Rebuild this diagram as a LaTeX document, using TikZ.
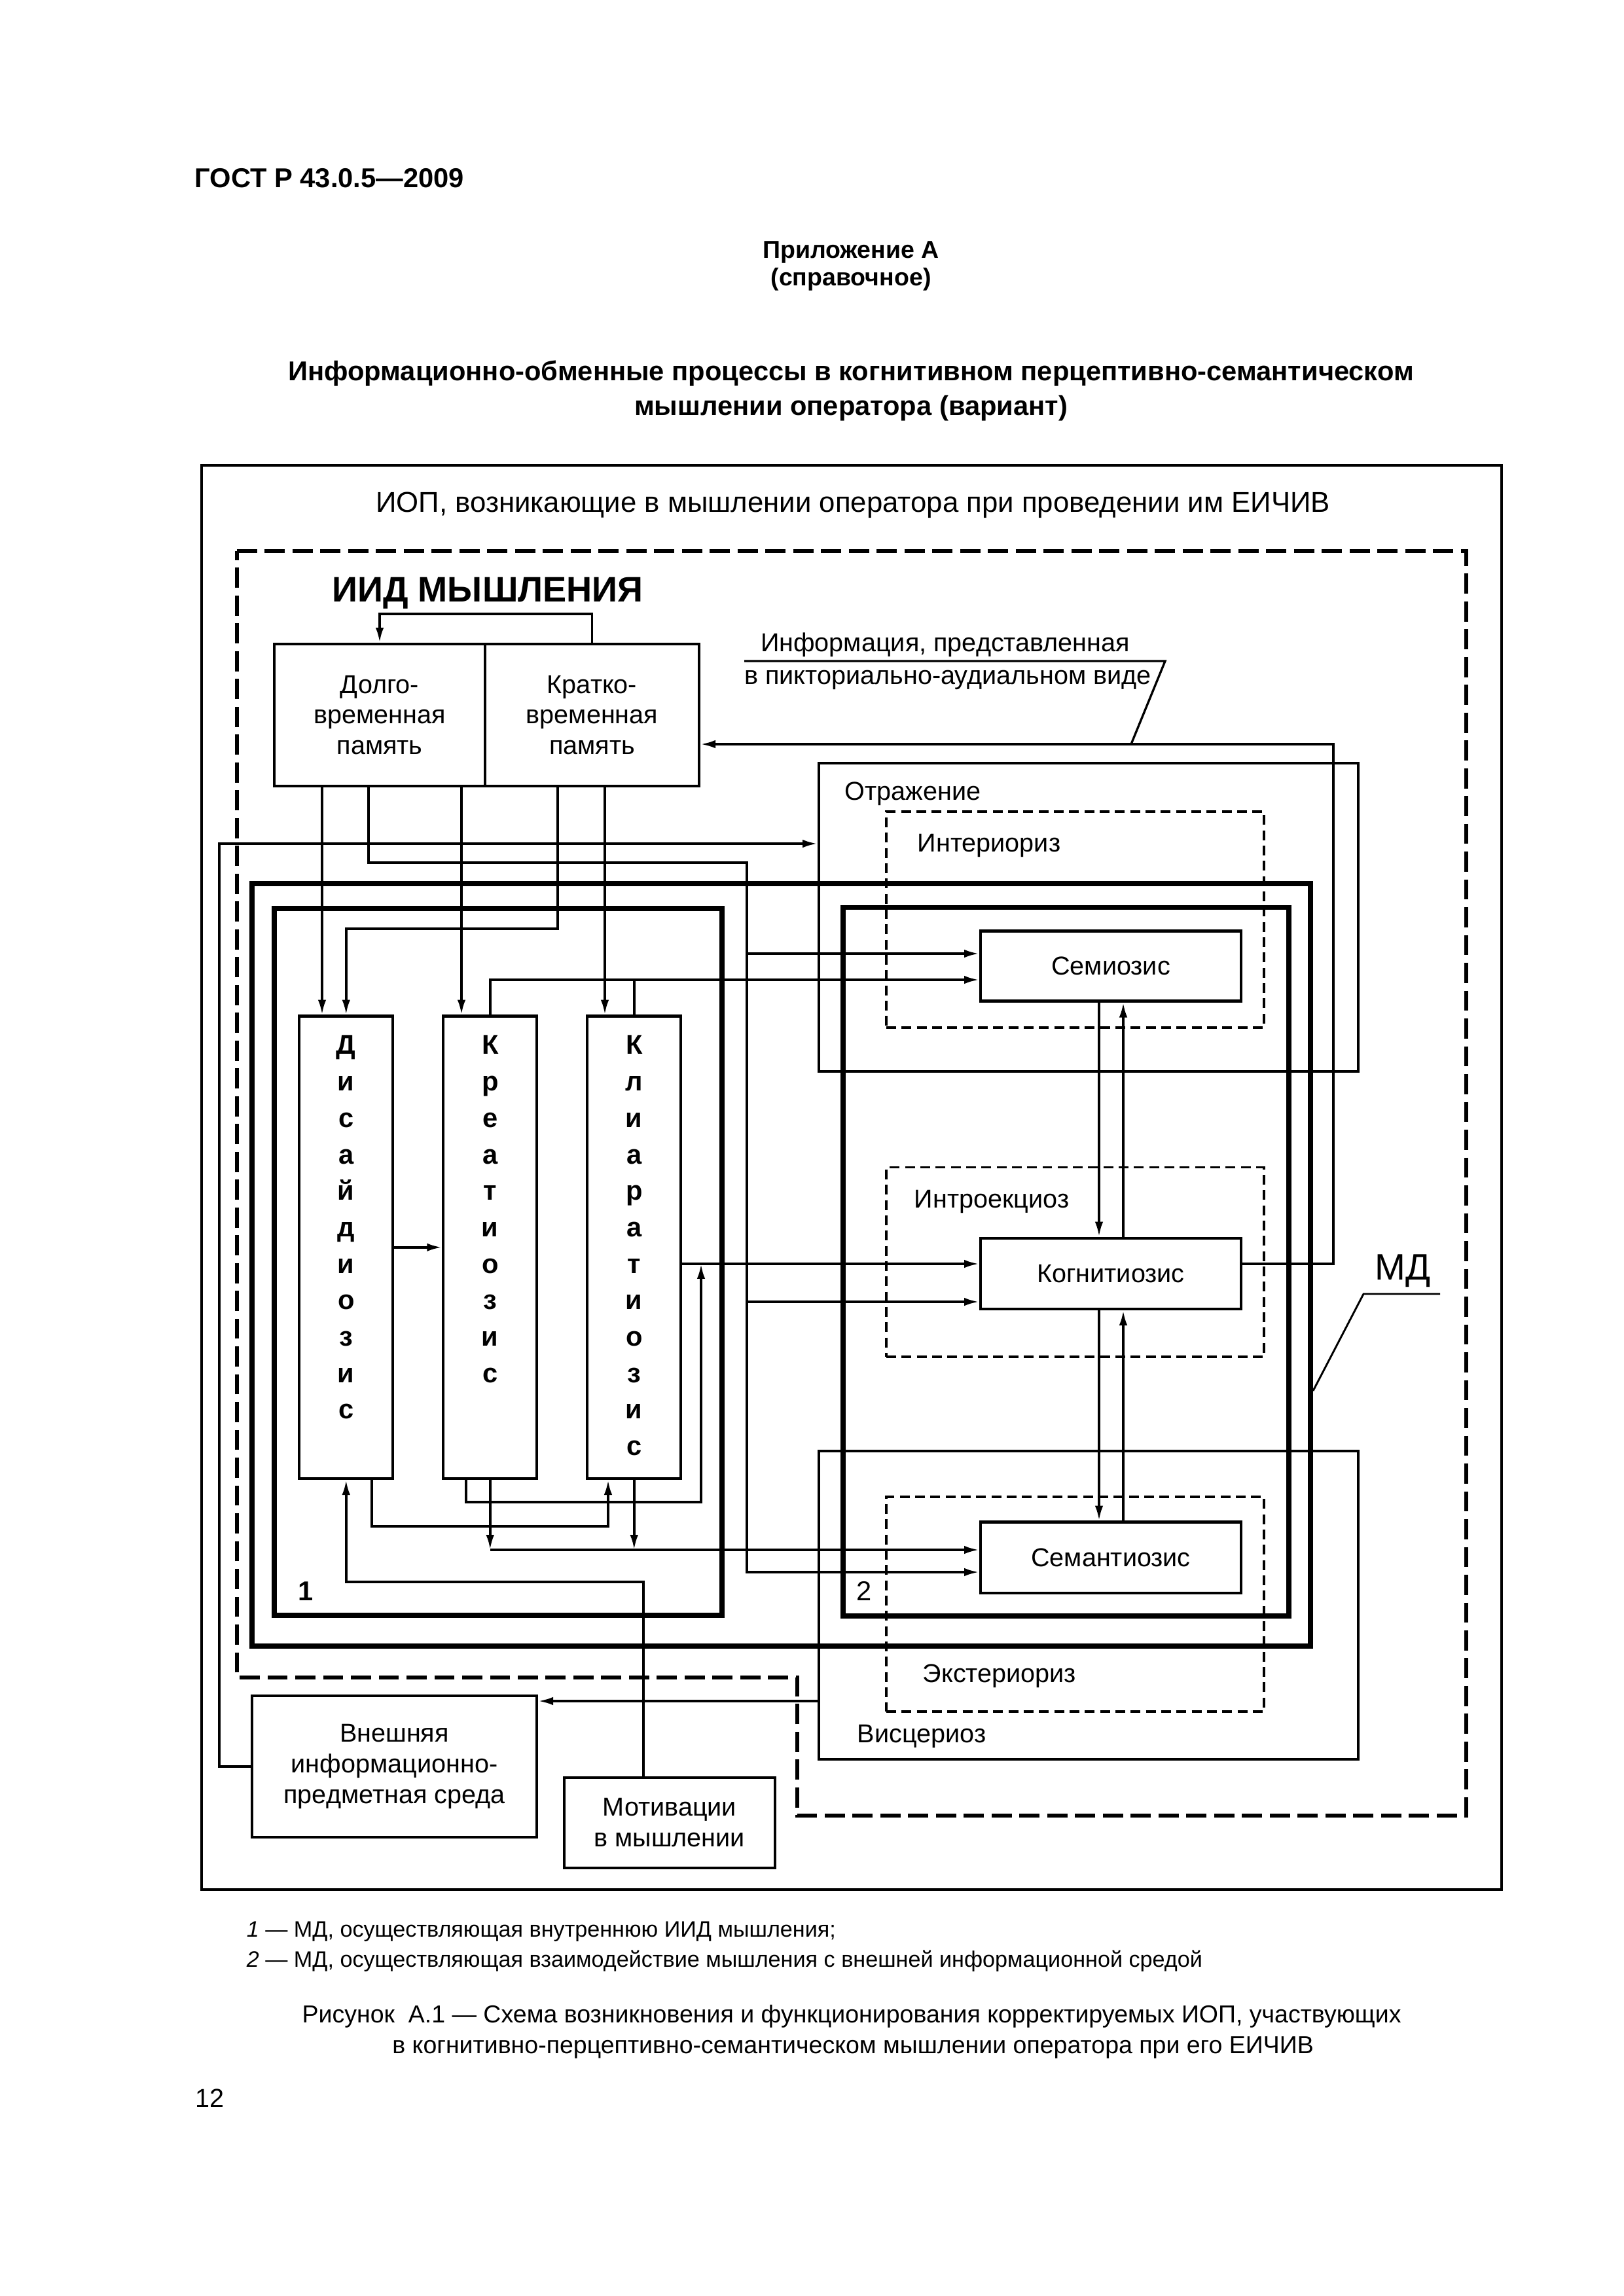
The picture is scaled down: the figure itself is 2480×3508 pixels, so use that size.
\documentclass[tikz,border=0pt]{standalone}
\usepackage{fontspec}
\setmainfont{Liberation Sans}
\usetikzlibrary{arrows.meta,calc}

\tikzset{
  blk/.style 2 args={draw, line width=1pt, minimum width=#1*0.24003pt, minimum height=#2*0.24003pt, inner sep=0pt, align=center, font=\fontsize{9.5}{11.2}\selectfont},
  mdbox/.style 2 args={blk={#1}{#2}, line width=1.9pt},
  zone/.style 2 args={blk={#1}{#2}, line width=0.8pt, dash pattern=on 3.6pt off 2pt},
  wire/.style={line width=0.9pt},
  arr/.style={wire, -{Latex[length=5.5pt,width=3pt]}},
  lbl/.style={anchor=base west, inner sep=0pt, font=\fontsize{9.5}{10.56}\selectfont},
  stack/.style={anchor=north, align=center, inner sep=0pt, font=\bfseries\fontsize{10}{13.37}\selectfont},
}

\begin{document}
\begin{tikzpicture}[x=0.24003pt,y=0.24003pt,yscale=-1]
\useasboundingbox (0,0) rectangle (2480,3508);

% Text Node
\node[anchor=base west, inner sep=0pt, font=\bfseries\fontsize{10}{11}\selectfont] (gost) at (297,286) {ГОСТ Р 43.0.5—2009};
% Text Node
\node[anchor=base, inner sep=0pt, font=\bfseries\fontsize{9}{10}\selectfont] (app) at (1300,394) {Приложение А};
% Text Node
\node[anchor=base, inner sep=0pt, font=\bfseries\fontsize{9}{10}\selectfont] (ref) at (1300,436) {(справочное)};
% Text Node
\node[anchor=base, inner sep=0pt, font=\bfseries\fontsize{10}{12}\selectfont] (titleA) at (1300,581) {Информационно-обменные процессы в когнитивном перцептивно-семантическом};
% Text Node
\node[anchor=base, inner sep=0pt, font=\bfseries\fontsize{10}{12}\selectfont] (titleB) at (1300,634) {мышлении оператора (вариант)};

%Shape: Rectangle
\node[blk={1986}{2176}, line width=1.1pt] (frame) at (1301,1799) {};
% Text Node
\node[anchor=base, inner sep=0pt, font=\fontsize{10.5}{12}\selectfont] (iop) at (1303,782) {ИОП, возникающие в мышлении оператора при проведении им ЕИЧИВ};

%Shape: Polygon (dashed)
\draw[line width=1.6pt, dash pattern=on 7.4pt off 2.8pt] (362,842) -- (2240,842) -- (2240,2774) -- (1218,2774) -- (1218,2563) -- (362,2563) -- cycle;

% Text Node
\node[anchor=base, inner sep=0pt, font=\bfseries\fontsize{13}{15}\selectfont] (iid) at (745,919) {ИИД МЫШЛЕНИЯ};

%Shape: Rectangle
\node[blk={322}{217}] (memL) at (580,1092.5) {Долго-\\временная\\память};
%Shape: Rectangle
\node[blk={327}{217}] (memR) at (904.5,1092.5) {Кратко-\\временная\\память};

% Text Node
\node[anchor=base, inner sep=0pt, font=\fontsize{9.5}{10.56}\selectfont] (infoT) at (1444,995) {Информация, представленная};
% Text Node
\node[anchor=base, inner sep=0pt, font=\fontsize{9.5}{10.56}\selectfont] (infoB) at (1448,1045) {в пикториально-аудиальном виде};

%Shape: Rectangle
\node[blk={824}{471}] (otr) at (1663,1401.5) {};
\node[lbl] (otrT) at (1290,1222) {Отражение};
%Shape: Rectangle
\node[blk={824}{471.2}] (vis) at (1663,2452.4) {};
\node[lbl] (visT) at (1309,2662) {Висцериоз};

%Shape: Rectangle (dashed)
\node[zone={577}{330}] (inter) at (1642.5,1405) {};
\node[lbl] (interT) at (1401,1301) {Интериориз};
%Shape: Rectangle (dashed)
\node[zone={577}{289.3}] (intro) at (1642.5,1928.35) {};
\node[lbl] (introT) at (1396,1845) {Интроекциоз};
%Shape: Rectangle (dashed)
\node[zone={577}{328}] (exter) at (1642.5,2451) {};
\node[lbl] (exterT) at (1409,2570) {Экстериориз};

%Shape: Rectangle (thick)
\node[mdbox={1616.7}{1165.1}] (mdo) at (1193.35,1932.15) {};
%Shape: Rectangle (thick)
\node[mdbox={684}{1080}] (md1) at (761,1928) {};
\node[lbl, font=\bfseries\fontsize{10}{12}\selectfont] (md1T) at (455,2445) {1};
%Shape: Rectangle (thick)
\node[mdbox={681.3}{1082.1}] (md2) at (1628.35,1927.55) {};
\node[lbl, font=\fontsize{10}{12}\selectfont] (md2T) at (1308,2445) {2};

%Shape: Rectangle
\node[blk={143}{706.5}] (dis) at (528.75,1905.75) {};
\node[stack] (disT) at ($(dis.north)+(0,31)$) {Д\\и\\с\\а\\й\\д\\и\\о\\з\\и\\с};
%Shape: Rectangle
\node[blk={143}{706.5}] (kre) at (748.75,1905.75) {};
\node[stack] (kreT) at ($(kre.north)+(0,31)$) {К\\р\\е\\а\\т\\и\\о\\з\\и\\с};
%Shape: Rectangle
\node[blk={143}{706.5}] (kli) at (968.75,1905.75) {};
\node[stack] (kliT) at ($(kli.north)+(0,31)$) {К\\л\\и\\а\\р\\а\\т\\и\\о\\з\\и\\с};

%Shape: Rectangle
\node[blk={398}{107}] (semio) at (1697,1476) {Семиозис};
%Shape: Rectangle
\node[blk={398}{108.4}] (kogn) at (1697,1945.8) {Когнитиозис};
%Shape: Rectangle
\node[blk={398}{108.5}] (seman) at (1697,2379.75) {Семантиозис};

%Shape: Rectangle
\node[blk={435}{216.4}] (ext) at (602.5,2698.8) {Внешняя\\информационно-\\предметная среда};
%Shape: Rectangle
\node[blk={321.6}{138.4}] (mot) at (1022.8,2784.8) {Мотивации\\в мышлении};

% Text Node
\node[lbl, font=\fontsize{13.5}{15}\selectfont] (mdT) at (2100,1955) {МД};

% rails
\coordinate (xa) at (492,0);
\coordinate (xb) at (563,0);
\coordinate (xc) at (705,0);
\coordinate (xd) at (852,0);
\coordinate (xe) at (924,0);
\coordinate (xf) at (1141,0);
\coordinate (x9) at (712,0);
\coordinate (x10) at (1071,0);
\coordinate (x11) at (568,0);
\coordinate (x12) at (929,0);
\coordinate (x13) at (983,0);
\coordinate (xg) at (335,0);
\coordinate (xh) at (2037,0);
\coordinate (xdn) at (1679,0);
\coordinate (xup) at (1716,0);
\coordinate (yI) at (0,1137);
\coordinate (yL) at (0,1289);
\coordinate (yB) at (0,1318);
\coordinate (yJ) at (0,1419);
\coordinate (yS1) at (0,1457);
\coordinate (yT) at (0,1497);
\coordinate (yK) at (0,1931);
\coordinate (yS2) at (0,1989);
\coordinate (y9) at (0,2295);
\coordinate (y10) at (0,2332);
\coordinate (yM) at (0,2368);
\coordinate (yS3) at (0,2402);
\coordinate (yMot) at (0,2417);
\coordinate (yE) at (0,2599);

%Straight Lines
\draw[arr] (memR.north) -- ++(0,-44) -| (memL.north);
%Straight Lines
\draw[arr] (memL.south -| xa) -- (dis.north -| xa);
\draw[arr] (memR.south -| xd) |- (dis.north |- yJ) -- (dis.north);
\draw[arr] (memL.south -| xc) -- (kre.north -| xc);
\draw[arr] (memR.south -| xe) -- (kli.north -| xe);
%Straight Lines
\draw[arr] (memL.south -| xb) |- (xf |- yB) |- (seman.west |- yS3);
\draw[arr] (xf |- yS1) -- (semio.west |- yS1);
\draw[arr] (xf |- yS2) -- (kogn.west |- yS2);
%Straight Lines
\draw[arr] (kre.north) |- (semio.west |- yT);
\draw[wire] (kli.north) -- (kli.north |- yT);
%Straight Lines
\draw[arr] (dis.east) -- (kre.west);
\draw[arr] (kli.east |- yK) -- (kogn.west |- yK);
\draw[arr] (kre.south -| x9) |- (x10 |- y9) -- (x10 |- yK);
\draw[arr] (dis.south -| x11) |- (x12 |- y10) -- (kli.south -| x12);
\draw[arr] (kre.south) -- (kre.south |- yM);
\draw[arr] (kli.south) -- (kli.south |- yM);
\draw[arr] (kre.south |- yM) -- (seman.west |- yM);
%Straight Lines
\draw[arr] (mot.north -| x13) |- (dis.south |- yMot) -- (dis.south);
\draw[arr] (vis.west |- yE) -- (ext.east |- yE);
\draw[arr] (ext.west) -| (xg |- yL) -- (otr.west |- yL);
\draw[arr] (kogn.east |- yK) -| (xh |- yI) -- (memR.east |- yI);
%Straight Lines
\draw[arr] (semio.south -| xdn) -- (kogn.north -| xdn);
\draw[arr] (kogn.north -| xup) -- (semio.south -| xup);
\draw[arr] (kogn.south -| xdn) -- (seman.north -| xdn);
\draw[arr] (seman.north -| xup) -- (kogn.south -| xup);

% leaders
\coordinate (infoA) at (1137,1010);
\coordinate (infoK) at (1780,1010);
\coordinate (infoE) at (1728,1137);
\draw[line width=0.8pt] (infoA) -- (infoK) -- (infoE);
\coordinate (mdA) at (2200,1977);
\coordinate (mdK) at (2083,1977);
\coordinate (mdE) at (2006,2125);
\draw[line width=0.7pt] (mdA) -- (mdK) -- (mdE);

% Text Node
\node[anchor=base west, inner sep=0pt, font=\fontsize{8.2}{9}\selectfont] (noteA) at (376,2959) {\textit{1} — МД, осуществляющая внутреннюю ИИД мышления;};
% Text Node
\node[anchor=base west, inner sep=0pt, font=\fontsize{8.2}{9}\selectfont] (noteB) at (376,3005) {\textit{2} — МД, осуществляющая взаимодействие мышления с внешней информационной средой};
% Text Node
\node[anchor=base, inner sep=0pt, font=\fontsize{9}{11}\selectfont] (capA) at (1301,3090) {Рисунок \ А.1 — Схема возникновения и функционирования корректируемых ИОП, участвующих};
% Text Node
\node[anchor=base, inner sep=0pt, font=\fontsize{9}{11}\selectfont] (capB) at (1303,3137) {в когнитивно-перцептивно-семантическом мышлении оператора при его ЕИЧИВ};
% Text Node
\node[anchor=base west, inner sep=0pt, font=\fontsize{9.5}{11}\selectfont] (page) at (298,3219) {12};

\end{tikzpicture}
\end{document}
